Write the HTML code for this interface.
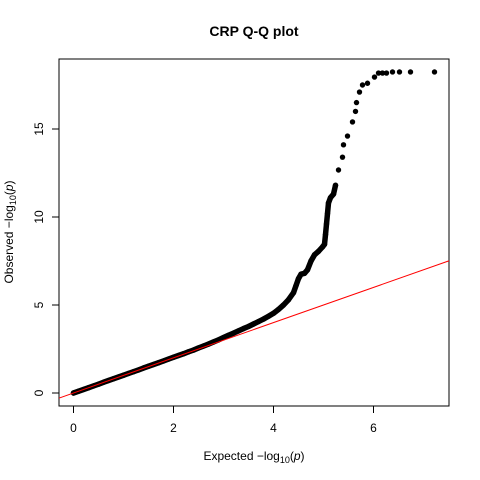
<!DOCTYPE html>
<html><head><meta charset="utf-8"><style>
body{margin:0;background:#fff;}
svg{display:block;font-family:"Liberation Sans",sans-serif;}
</style></head><body>
<svg id="c" width="480" height="480">
<text x="254" y="36" text-anchor="middle" font-size="14" font-weight="bold">CRP Q-Q plot</text>
<rect x="59" y="59" width="390" height="347" fill="none" stroke="#000" stroke-width="1"/>
<g id="xt"></g>
<g id="yt"></g>
<text x="254" y="460" text-anchor="middle" font-size="12">Expected −log<tspan font-size="9" dy="3">10</tspan><tspan dy="-3">(</tspan><tspan font-style="italic">p</tspan>)</text>
<text transform="translate(13,232) rotate(-90)" text-anchor="middle" font-size="12">Observed −log<tspan font-size="9" dy="3">10</tspan><tspan dy="-3">(</tspan><tspan font-style="italic">p</tspan>)</text>
<defs><clipPath id="cp"><rect x="59" y="59" width="390" height="347"/></clipPath></defs>
<g id="pts"></g>
<line id="ref" stroke="#ff0000" stroke-width="1" clip-path="url(#cp)"/>
</svg>
<script>
const xTicks=[0,2,4,6];
const yTicks=[0,5,10,15];
const expected=[0,0.1,0.2,0.3,0.4,0.5,0.6,0.7,0.8,0.9,1.0,1.1,1.2,1.3,1.4,1.5,1.6,1.7,1.8,1.9,2.0,2.1,2.2,2.3,2.4,2.5,2.6,2.7,2.8,2.9,3.0,3.1,3.2,3.3,3.4,3.5,3.6,3.7,3.8,3.9,4.0,4.1,
4.2,4.3,4.4,4.45,4.5,4.55,4.62,4.68,4.75,4.82,4.9,4.98,5.02,5.04,5.06,5.08,5.1,5.14,5.2,5.24,
5.3,5.38,5.4,5.48,5.58,5.64,5.66,5.72,5.78,5.88,6.02,6.1,6.18,6.26,6.38,6.52,6.74,7.22];
const observed=[0,0.1,0.2,0.3,0.4,0.5,0.61,0.71,0.81,0.91,1.01,1.11,1.21,1.31,1.42,1.52,1.62,1.72,1.82,1.93,2.03,2.13,2.23,2.34,2.44,2.56,2.67,2.78,2.9,3.02,3.15,3.28,3.4,3.53,3.66,3.78,3.92,4.06,4.2,4.36,4.53,4.75,
5.0,5.3,5.7,6.1,6.5,6.75,6.8,7.0,7.5,7.85,8.05,8.3,8.45,9.0,9.6,10.2,10.8,11.1,11.3,11.8,
12.67,13.4,14.1,14.6,15.4,16.0,16.5,17.1,17.5,17.6,17.95,18.18,18.18,18.18,18.24,18.24,18.24,18.24];
const denseCount=62;
const X=v=>73.5+v*50, Y=v=>393-v*17.6;
const ns="http://www.w3.org/2000/svg";
const xt=document.getElementById('xt'), yt=document.getElementById('yt'), pts=document.getElementById('pts');
function mk(t,a,p){const e=document.createElementNS(ns,t);for(const k in a)e.setAttribute(k,a[k]);p.appendChild(e);return e;}
xTicks.forEach(v=>{
 const l=mk('line',{x1:X(v),x2:X(v),y1:406,y2:413,stroke:'#000'},xt);
 
 
 const t=mk('text',{x:X(v),y:432,'text-anchor':'middle','font-size':12},xt);t.textContent=v;
 
 
});
yTicks.forEach(v=>{
 const l=mk('line',{x1:52,x2:59,y1:Y(v),y2:Y(v),stroke:'#000'},yt);
 
 
 const t=mk('text',{transform:`translate(43,${Y(v)}) rotate(-90)`,'text-anchor':'middle','font-size':12},yt);t.textContent=v;
 
 
});
const pl=mk('polyline',{points:expected.slice(0,denseCount).map((e,i)=>X(e)+','+Y(observed[i])).join(' '),fill:'none',stroke:'#000','stroke-width':5.5,'stroke-linejoin':'round','stroke-linecap':'round'},pts);


expected.forEach((e,i)=>{
 const c=mk('circle',{cx:X(e),cy:Y(observed[i]),r:2.7,fill:'#000'},pts);
 
 
});
const r=document.getElementById('ref');
r.setAttribute('x1',X(-1));r.setAttribute('y1',Y(-1));r.setAttribute('x2',X(8));r.setAttribute('y2',Y(8));
</script>
</body></html>
